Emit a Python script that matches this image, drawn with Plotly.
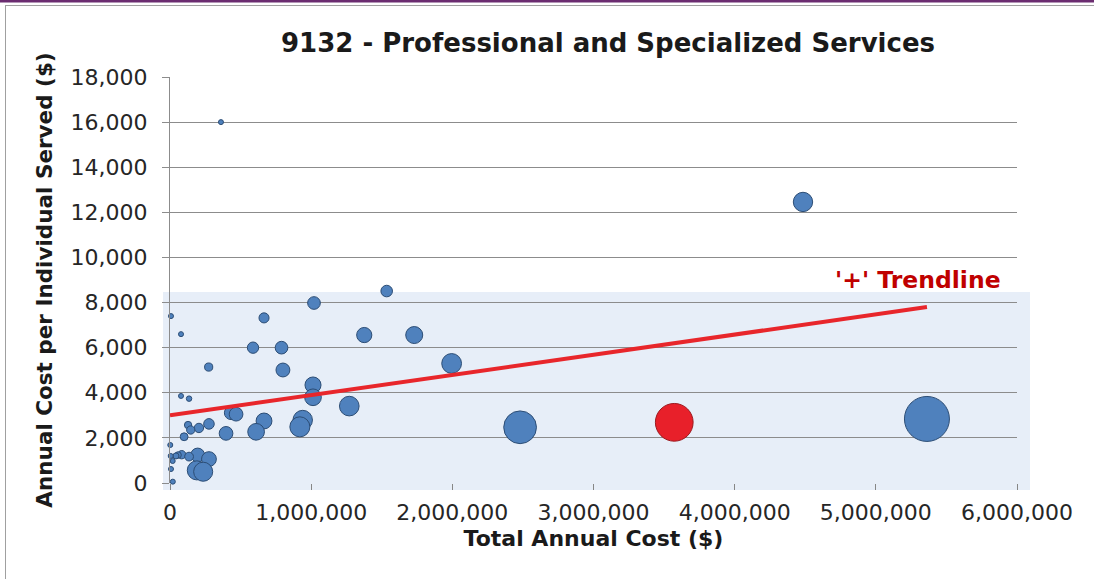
import plotly.graph_objects as go

# ---- data ----
total_cost = [361000, 4484000, 1535000, 1020000, 666000, 78000, 1376000, 1730000,
              588000, 790000, 800000, 274000, 1995000, 1013000, 1013000, 1270000,
              433000, 468000, 397000, 666000, 610000, 940000, 920000, 276000,
              205000, 128000, 147000, 100000, 78000, 135000, 7000, 196000,
              276000, 190000, 235000, 83000, 135000, 57000, 19000, 7000,
              2000, 20000, 42000, 5000, 2480000, 5362000]
cost_per_individual = [16000, 12460, 8510, 7980, 7320, 6600, 6560, 6560,
                       6000, 6000, 5010, 5140, 5300, 4345, 3800, 3410,
                       3110, 3050, 2200, 2750, 2270, 2790, 2490, 2620,
                       2440, 2570, 2350, 2050, 3860, 3740, 7400, 1240,
                       1060, 560, 500, 1255, 1170, 1240, 975, 620,
                       1685, 60, 1200, 1200, 2470, 2840]
individuals_served = [23, 350, 125, 150, 95, 12, 215, 270,
                      120, 150, 180, 62, 365, 240, 260, 360,
                      170, 175, 175, 235, 260, 355, 375, 105,
                      82, 50, 64, 58, 18, 28, 2, 180,
                      205, 340, 340, 65, 72, 40, 17, 10,
                      2, 23, 34, 12, 1000, 1890]

highlight_cost = [3572000]
highlight_per_individual = [2690]
highlight_served = [1330]

trend_x = [0, 5362000]
trend_y = [3000, 7800]

x_ticks = [0, 1000000, 2000000, 3000000, 4000000, 5000000, 6000000]
x_tick_labels = ["0", "1,000,000", "2,000,000", "3,000,000", "4,000,000", "5,000,000", "6,000,000"]
y_ticks = [0, 2000, 4000, 6000, 8000, 10000, 12000, 14000, 16000, 18000]
y_tick_labels = ["0", "2,000", "4,000", "6,000", "8,000", "10,000", "12,000", "14,000", "16,000", "18,000"]

title_text = "9132 - Professional and Specialized Services"
x_title = "Total Annual Cost ($)"
y_title = "Annual Cost per Individual Served ($)"
trend_label = "'+' Trendline"

# ---- figure ----
max_served = max(individuals_served + highlight_served)
max_diam = 45
sizeref = 2.0 * max_served / (max_diam ** 2)

fig = go.Figure()

fig.add_trace(go.Scatter(
    x=total_cost, y=cost_per_individual, mode="markers",
    marker=dict(size=individuals_served, sizemode="area", sizeref=sizeref, sizemin=2.5,
                color="#4f81bd", opacity=1,
                line=dict(color="#2c4d75", width=1)),
    cliponaxis=False, showlegend=False, hoverinfo="x+y"))

fig.add_trace(go.Scatter(
    x=highlight_cost, y=highlight_per_individual, mode="markers",
    marker=dict(size=highlight_served, sizemode="area", sizeref=sizeref,
                color="#e8202a", opacity=1,
                line=dict(color="#9c1a1f", width=1)),
    cliponaxis=False, showlegend=False, hoverinfo="x+y"))

fig.add_trace(go.Scatter(
    x=trend_x, y=trend_y, mode="lines",
    line=dict(color="#e8262b", width=4),
    showlegend=False, hoverinfo="skip"))

L, R, T, B = 170, 77, 77, 96
W, H = 1094, 579
pw, ph = W - L - R, H - T - B

def px(x):
    return (x - L) / pw

def py(y):
    return (H - B - y) / ph

shapes = [
    # light blue "+" band
    dict(type="rect", xref="paper", yref="paper", layer="below",
         x0=px(163), x1=px(1030), y0=py(490), y1=py(292),
         fillcolor="#e7eef8", line=dict(width=0)),
    # purple top rule
    dict(type="rect", xref="paper", yref="paper", layer="above",
         x0=px(0), x1=px(1094), y0=py(2.5), y1=py(0),
         fillcolor="#6b2c70", line=dict(width=0)),
    # gray frame
    dict(type="line", xref="paper", yref="paper", x0=px(5), x1=px(1094), y0=py(5.5), y1=py(5.5),
         line=dict(color="#a0a0a0", width=1)),
    dict(type="line", xref="paper", yref="paper", x0=px(5.5), x1=px(5.5), y0=py(5), y1=py(579),
         line=dict(color="#a0a0a0", width=1)),
]

fig.update_layout(
    width=W, height=H,
    margin=dict(l=L, r=R, t=T, b=B, pad=0),
    paper_bgcolor="white", plot_bgcolor="rgba(0,0,0,0)",
    font=dict(family="DejaVu Sans, Verdana, sans-serif", color="#262626"),
    title=dict(text="<b>" + title_text + "</b>", x=608 / W, xanchor="center",
               y=1 - 43 / H, yanchor="middle",
               font=dict(family="DejaVu Sans, sans-serif", size=26, color="#1a1a1a")),
    shapes=shapes,
    xaxis=dict(range=[0, 6000000], tickvals=x_ticks, ticktext=x_tick_labels,
               showgrid=False, zeroline=False, showline=False,
               ticks="outside", ticklen=6, tickcolor="#868686", tickwidth=1,
               ticklabelstandoff=4,
               tickfont=dict(size=22, color="#262626"),
               title=dict(text="<b>" + x_title + "</b>", standoff=6,
                          font=dict(family="DejaVu Sans, sans-serif", size=22, color="#1a1a1a"))),
    yaxis=dict(range=[0, 18000], tickvals=y_ticks, ticktext=y_tick_labels,
               showgrid=True, gridcolor="#8c8c8c", gridwidth=1,
               zeroline=False, showline=True, linecolor="#8c8c8c", linewidth=1,
               ticks="outside", ticklen=7, tickcolor="#8c8c8c", tickwidth=1,
               ticklabelstandoff=10,
               tickfont=dict(size=22, color="#262626"),
               title=dict(text="<b>" + y_title + "</b>", standoff=12,
                          font=dict(family="DejaVu Sans, sans-serif", size=21.5, color="#1a1a1a"))),
    annotations=[dict(text="<b>" + trend_label + "</b>", xref="paper", yref="paper",
                      x=px(1003), y=py(280), xanchor="right", yanchor="middle", showarrow=False,
                      font=dict(family="DejaVu Sans, sans-serif", size=23.5, color="#c00000"))],
)

fig.write_html("out.html", config={"displayModeBar": False},
               post_script="document.body.style.margin='0';")
